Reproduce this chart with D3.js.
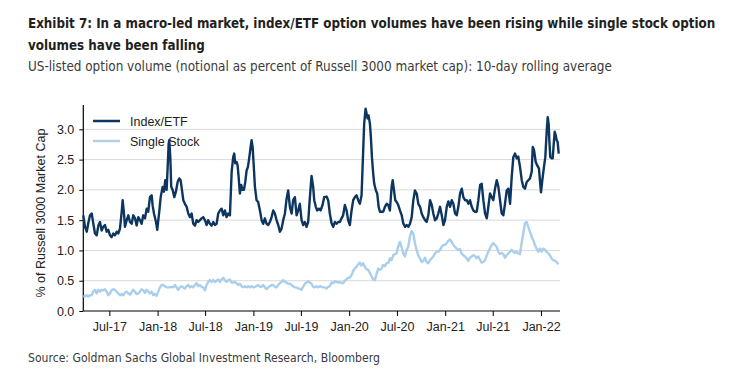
<!DOCTYPE html>
<html>
<head>
<meta charset="utf-8">
<script src="https://cdn.jsdelivr.net/npm/d3@7"></script>
<style>
  html, body { margin: 0; padding: 0; background: #fff; }
  svg { display: block; }
</style>
</head>
<body>
<svg id="chart" width="738" height="371"></svg>
<script>
// ---- DATA ----
const seriesNames = ["Index/ETF", "Single Stock"];
const seriesColors = ["#0c355f", "#a9cfec"];

// Index/ETF: dates as decimal years, values in % of Russell 3000 market cap
const indexDates = [
2017.224,2017.242,2017.260,2017.276,2017.294,2017.312,2017.328,2017.346,2017.364,2017.381,
2017.398,2017.416,2017.433,2017.450,2017.468,2017.485,2017.503,2017.520,2017.537,2017.555,
2017.573,2017.589,2017.607,2017.625,2017.635,2017.649,2017.659,2017.677,2017.694,2017.711,
2017.729,2017.746,2017.764,2017.781,2017.798,2017.816,2017.833,2017.850,2017.868,2017.886,
2017.902,2017.920,2017.938,2017.948,2017.962,2017.983,2017.996,2018.017,2018.032,2018.052,
2018.066,2018.080,2018.094,2018.105,2018.115,2018.121,2018.132,2018.142,2018.157,2018.174,
2018.191,2018.209,2018.226,2018.240,2018.254,2018.268,2018.285,2018.303,2018.320,2018.337,
2018.355,2018.372,2018.390,2018.407,2018.424,2018.442,2018.460,2018.476,2018.494,2018.512,
2018.528,2018.546,2018.564,2018.581,2018.598,2018.616,2018.633,2018.650,2018.668,2018.685,
2018.703,2018.720,2018.737,2018.755,2018.773,2018.789,2018.800,2018.810,2018.825,2018.835,
2018.846,2018.859,2018.873,2018.887,2018.901,2018.915,2018.929,2018.943,2018.956,2018.971,
2018.981,2018.992,2019.002,2019.016,2019.033,2019.050,2019.068,2019.086,2019.102,2019.120,
2019.138,2019.155,2019.172,2019.190,2019.207,2019.224,2019.242,2019.259,2019.277,2019.294,
2019.311,2019.329,2019.347,2019.363,2019.381,2019.399,2019.415,2019.433,2019.451,2019.468,
2019.485,2019.503,2019.520,2019.537,2019.555,2019.572,2019.590,2019.607,2019.624,2019.635,
2019.652,2019.666,2019.684,2019.701,2019.722,2019.739,2019.764,2019.781,2019.798,2019.816,
2019.833,2019.851,2019.868,2019.885,2019.903,2019.920,2019.937,2019.955,2019.973,2019.989,
2020.007,2020.025,2020.042,2020.059,2020.077,2020.094,2020.111,2020.129,2020.146,2020.156,
2020.171,2020.181,2020.192,2020.202,2020.216,2020.226,2020.237,2020.250,2020.261,2020.278,
2020.292,2020.307,2020.320,2020.338,2020.355,2020.372,2020.390,2020.407,2020.424,2020.442,
2020.453,2020.466,2020.480,2020.494,2020.511,2020.529,2020.547,2020.563,2020.581,2020.599,
2020.615,2020.633,2020.651,2020.668,2020.685,2020.703,2020.720,2020.738,2020.755,2020.772,
2020.790,2020.807,2020.824,2020.842,2020.860,2020.876,2020.894,2020.912,2020.928,2020.946,
2020.964,2020.981,2020.998,2021.016,2021.033,2021.051,2021.068,2021.085,2021.103,2021.120,
2021.137,2021.155,2021.173,2021.189,2021.207,2021.225,2021.242,2021.259,2021.277,2021.294,
2021.311,2021.329,2021.346,2021.364,2021.381,2021.398,2021.416,2021.434,2021.450,2021.468,
2021.486,2021.502,2021.520,2021.538,2021.555,2021.572,2021.590,2021.607,2021.624,2021.642,
2021.659,2021.677,2021.694,2021.711,2021.729,2021.747,2021.763,2021.781,2021.799,2021.815,
2021.833,2021.851,2021.868,2021.885,2021.903,2021.914,2021.927,2021.945,2021.962,2021.979,
2021.990,2022.000,2022.014,2022.031,2022.045,2022.060,2022.070,2022.080,2022.087,2022.097,
2022.112,2022.122,2022.133,2022.143,2022.154,2022.164,2022.174,2022.185];

const indexValues = [
1.58,1.39,1.31,1.45,1.58,1.61,1.45,1.28,1.25,1.41,
1.47,1.33,1.39,1.42,1.31,1.34,1.25,1.22,1.28,1.25,
1.31,1.28,1.36,1.64,1.83,1.61,1.39,1.50,1.58,1.47,
1.44,1.58,1.53,1.41,1.55,1.50,1.44,1.58,1.53,1.69,
1.64,1.88,1.91,1.74,1.61,1.47,1.34,1.64,1.88,2.05,
1.97,2.16,2.00,2.38,2.76,2.82,2.55,2.05,2.00,1.88,
1.97,2.13,2.19,2.16,2.00,1.83,1.77,1.72,1.61,1.55,
1.61,1.44,1.41,1.50,1.47,1.50,1.53,1.55,1.50,1.42,
1.50,1.44,1.41,1.47,1.42,1.44,1.61,1.66,1.69,1.58,
1.66,1.55,1.61,1.58,2.30,2.54,2.60,2.44,2.46,2.41,
2.21,1.94,2.08,2.00,2.00,2.13,2.32,2.38,2.52,2.71,
2.82,2.71,2.44,2.05,1.83,1.80,1.66,1.50,1.44,1.53,
1.44,1.42,1.47,1.55,1.66,1.61,1.50,1.42,1.31,1.36,
1.50,1.61,1.86,1.99,1.72,1.61,1.83,1.88,1.58,1.66,
1.77,1.50,1.42,1.47,1.39,1.47,1.88,2.23,2.05,1.83,
1.72,1.66,1.69,1.66,1.75,1.88,1.89,1.83,1.61,1.45,
1.39,1.47,1.44,1.47,1.47,1.53,1.58,1.75,1.66,1.50,
1.42,1.66,1.83,1.88,1.91,1.83,1.77,1.91,2.65,3.09,
3.34,3.26,3.18,3.23,3.09,2.87,2.54,2.27,2.10,1.99,
1.94,1.72,1.64,1.64,1.64,1.72,1.77,1.75,1.66,2.05,
2.16,2.00,1.83,1.80,1.75,1.66,1.58,1.45,1.39,1.42,
1.39,1.44,1.55,1.83,1.99,1.94,1.77,1.72,1.61,1.55,
1.50,1.47,1.58,1.83,1.75,1.61,1.50,1.53,1.61,1.72,
1.58,1.42,1.50,1.72,1.81,1.72,1.83,1.77,1.61,1.58,
1.72,1.94,2.02,1.88,1.83,1.83,1.77,1.83,1.72,1.66,
1.64,1.64,1.83,2.08,2.10,1.83,1.61,1.53,1.72,1.94,
1.88,1.83,2.02,2.16,2.05,1.83,1.61,1.58,1.77,1.99,
2.02,1.77,2.21,2.54,2.60,2.52,2.55,2.38,2.16,2.05,
2.02,2.13,2.16,2.19,2.30,2.71,2.66,2.46,2.40,2.35,
2.14,1.96,2.16,2.38,2.54,2.98,3.20,3.09,2.82,2.54,
2.52,2.52,2.76,2.96,2.90,2.82,2.79,2.60];

// Single Stock: regularly spaced observations (first date, spacing in years)
const singleStockStart = 2017.224;
const singleStockStep = 0.01739;
const singleStockValues = [
0.24,0.24,0.26,0.24,0.26,0.26,0.32,0.35,0.29,0.35,
0.32,0.35,0.34,0.36,0.32,0.26,0.29,0.34,0.36,0.35,
0.32,0.29,0.26,0.28,0.26,0.30,0.32,0.29,0.27,0.31,
0.35,0.32,0.28,0.29,0.32,0.36,0.34,0.30,0.35,0.32,
0.29,0.32,0.26,0.28,0.25,0.32,0.39,0.43,0.43,0.41,
0.39,0.39,0.39,0.40,0.39,0.43,0.39,0.35,0.39,0.41,
0.39,0.37,0.41,0.43,0.39,0.41,0.39,0.43,0.46,0.41,
0.43,0.40,0.39,0.34,0.43,0.48,0.51,0.48,0.51,0.48,
0.50,0.52,0.48,0.52,0.55,0.51,0.48,0.51,0.52,0.47,
0.47,0.48,0.46,0.43,0.45,0.41,0.39,0.41,0.39,0.41,
0.39,0.41,0.39,0.40,0.41,0.43,0.40,0.40,0.43,0.39,
0.36,0.39,0.41,0.43,0.43,0.40,0.39,0.43,0.46,0.48,
0.51,0.48,0.47,0.45,0.45,0.43,0.41,0.39,0.39,0.37,
0.37,0.35,0.40,0.45,0.47,0.49,0.47,0.45,0.40,0.39,
0.41,0.39,0.41,0.40,0.39,0.39,0.37,0.40,0.41,0.47,
0.46,0.49,0.48,0.47,0.48,0.46,0.46,0.50,0.52,0.55,
0.55,0.59,0.66,0.70,0.73,0.77,0.80,0.75,0.79,0.73,
0.69,0.68,0.63,0.57,0.52,0.51,0.61,0.70,0.68,0.70,
0.76,0.74,0.79,0.79,0.87,0.84,0.92,0.94,0.95,1.07,
1.14,1.06,0.95,0.90,1.01,1.06,1.23,1.32,1.28,1.12,
1.01,0.92,0.87,0.81,0.83,0.88,0.81,0.79,0.84,0.87,
0.90,0.95,0.98,0.98,1.01,1.06,1.09,1.09,1.12,1.16,
1.18,1.14,1.09,1.06,1.03,1.01,1.02,0.95,0.92,0.90,
0.87,0.83,0.88,0.90,0.92,0.91,0.87,0.90,0.85,0.80,
0.81,0.84,0.91,0.98,1.03,1.09,1.12,1.09,1.06,0.98,
0.94,0.96,0.94,0.88,0.92,0.95,0.98,1.01,0.98,0.96,
0.98,0.95,0.94,1.12,1.28,1.45,1.47,1.39,1.31,1.23,
1.17,1.09,1.03,0.98,1.03,0.98,1.03,1.01,0.98,0.95,
0.92,0.87,0.84,0.83,0.81,0.77];

const xDomainYears = [2017.224, 2022.188];
const xTickLabels = ["Jul-17","Jan-18","Jul-18","Jan-19","Jul-19","Jan-20","Jul-20","Jan-21","Jul-21","Jan-22"];
const xTickYears = [2017.5, 2018, 2018.5, 2019, 2019.5, 2020, 2020.5, 2021, 2021.5, 2022];
const yTicks = [0, 0.5, 1.0, 1.5, 2.0, 2.5, 3.0];
const yDomain = [0, 3.4];

const titleLines = [
  "Exhibit 7: In a macro-led market, index/ETF option volumes have been rising while single stock option",
  "volumes have been falling"
];
const subtitle = "US-listed option volume (notional as percent of Russell 3000 market cap): 10-day rolling average";
const yAxisLabel = "% of Russell 3000 Market Cap";
const source = "Source: Goldman Sachs Global Investment Research, Bloomberg";

// ---- HELPERS ----
function fromDecimalYear(t) {
  const y = Math.floor(t);
  const start = new Date(y, 0, 1).getTime();
  const end = new Date(y + 1, 0, 1).getTime();
  return new Date(start + (t - y) * (end - start));
}
const monthFromYear = t => {
  const y = Math.floor(t + 1e-9);
  const m = Math.round((t - y) * 12);
  return new Date(y, m, 1);
};
// Fit a text to a target width: shrink font if too wide, stretch spacing if narrower
function fitText(sel, target) {
  const node = sel.node();
  const w = node.getComputedTextLength();
  if (w > target) {
    const fs = parseFloat(sel.attr("font-size"));
    sel.attr("font-size", (fs * target / w).toFixed(2));
  } else {
    sel.attr("textLength", target).attr("lengthAdjust", "spacing");
  }
}

const indexData = indexDates.map((d, i) => ({date: fromDecimalYear(d), value: indexValues[i]}));
const singleData = singleStockValues.map((v, i) => ({date: fromDecimalYear(singleStockStart + i * singleStockStep), value: v}));

// ---- LAYOUT ----
const svg = d3.select("#chart");
const plot = {left: 83.3, right: 559, top: 105.1, bottom: 311};

const x = d3.scaleTime()
  .domain(xDomainYears.map(fromDecimalYear))
  .range([plot.left, plot.right]);
const y = d3.scaleLinear().domain(yDomain).range([plot.bottom, plot.top]);

const condensed = "'Liberation Sans Narrow','DejaVu Sans Condensed','Roboto Condensed','Open Sans',sans-serif";
const sans = "'Liberation Sans', Arial, sans-serif";

// Titles
const t1 = svg.append("text").attr("x", 28).attr("y", 28)
  .attr("font-family", condensed).attr("font-weight", "bold").attr("font-size", 17.5)
  .attr("fill", "#231f20").text(titleLines[0]);
fitText(t1, 688);
const t2 = svg.append("text").attr("x", 28).attr("y", 50)
  .attr("font-family", condensed).attr("font-weight", "bold").attr("font-size", t1.attr("font-size"))
  .attr("fill", "#231f20").text(titleLines[1]);
const st = svg.append("text").attr("x", 28).attr("y", 71)
  .attr("font-family", condensed).attr("font-size", 14.5)
  .attr("fill", "#3a3a3a").text(subtitle);
fitText(st, 584);
const src = svg.append("text").attr("x", 28).attr("y", 362)
  .attr("font-family", condensed).attr("font-size", 13.5)
  .attr("fill", "#3a3a3a").text(source);
fitText(src, 352);

// Gridlines
svg.append("g")
  .selectAll("line")
  .data(yTicks.filter(v => v > 0))
  .join("line")
  .attr("x1", plot.left).attr("x2", plot.right + 1)
  .attr("y1", d => y(d)).attr("y2", d => y(d))
  .attr("stroke", "#d9d9d9").attr("stroke-width", 1);

// Y axis
const yAxis = svg.append("g")
  .attr("transform", `translate(${plot.left},0)`)
  .call(d3.axisLeft(y).tickValues(yTicks).tickFormat(d3.format(".1f")).tickSize(4).tickPadding(5));
yAxis.select(".domain").attr("d", `M0,${plot.top}V${plot.bottom}`).attr("stroke", "#000").attr("stroke-width", 1.2);
yAxis.selectAll(".tick line").attr("stroke", "#000");
yAxis.selectAll("text").attr("font-family", sans).attr("font-size", 12.5).attr("fill", "#222");

// X axis
const xAxis = svg.append("g")
  .attr("transform", `translate(0,${plot.bottom})`)
  .call(d3.axisBottom(x)
    .tickValues(xTickYears.map(monthFromYear))
    .tickFormat((d, i) => xTickLabels[i])
    .tickSize(5).tickPadding(6));
xAxis.select(".domain").attr("d", `M${plot.left},0H${plot.right + 1}`).attr("stroke", "#000").attr("stroke-width", 1.2);
xAxis.selectAll(".tick line").attr("stroke", "#000");
xAxis.selectAll("text").attr("font-family", sans).attr("font-size", 12.5).attr("fill", "#222");

// Y axis label
svg.append("text")
  .attr("transform", `translate(45,${(plot.top + plot.bottom) / 2 + 5}) rotate(-90)`)
  .attr("text-anchor", "middle")
  .attr("font-family", sans).attr("font-size", 12.5).attr("fill", "#222")
  .text(yAxisLabel);

// Legend (drawn beneath lines)
const legend = svg.append("g");
seriesNames.forEach((name, i) => {
  const ly = 121 + i * 20;
  legend.append("line").attr("x1", 93).attr("x2", 120).attr("y1", ly).attr("y2", ly)
    .attr("stroke", i === 0 ? seriesColors[0] : "#b3cfe4").attr("stroke-width", 2.5);
  legend.append("text").attr("x", 130).attr("y", ly + 4.5)
    .attr("font-family", sans).attr("font-size", 12.5).attr("fill", "#222").text(name);
});

// Lines
const line = d3.line().x(d => x(d.date)).y(d => y(d.value)).curve(d3.curveLinear);
svg.append("path").datum(singleData)
  .attr("fill", "none").attr("stroke", seriesColors[1]).attr("stroke-width", 2.4)
  .attr("stroke-linejoin", "round").attr("d", line);
svg.append("path").datum(indexData)
  .attr("fill", "none").attr("stroke", seriesColors[0]).attr("stroke-width", 2.4)
  .attr("stroke-linejoin", "round").attr("d", line);
</script>
</body>
</html>
